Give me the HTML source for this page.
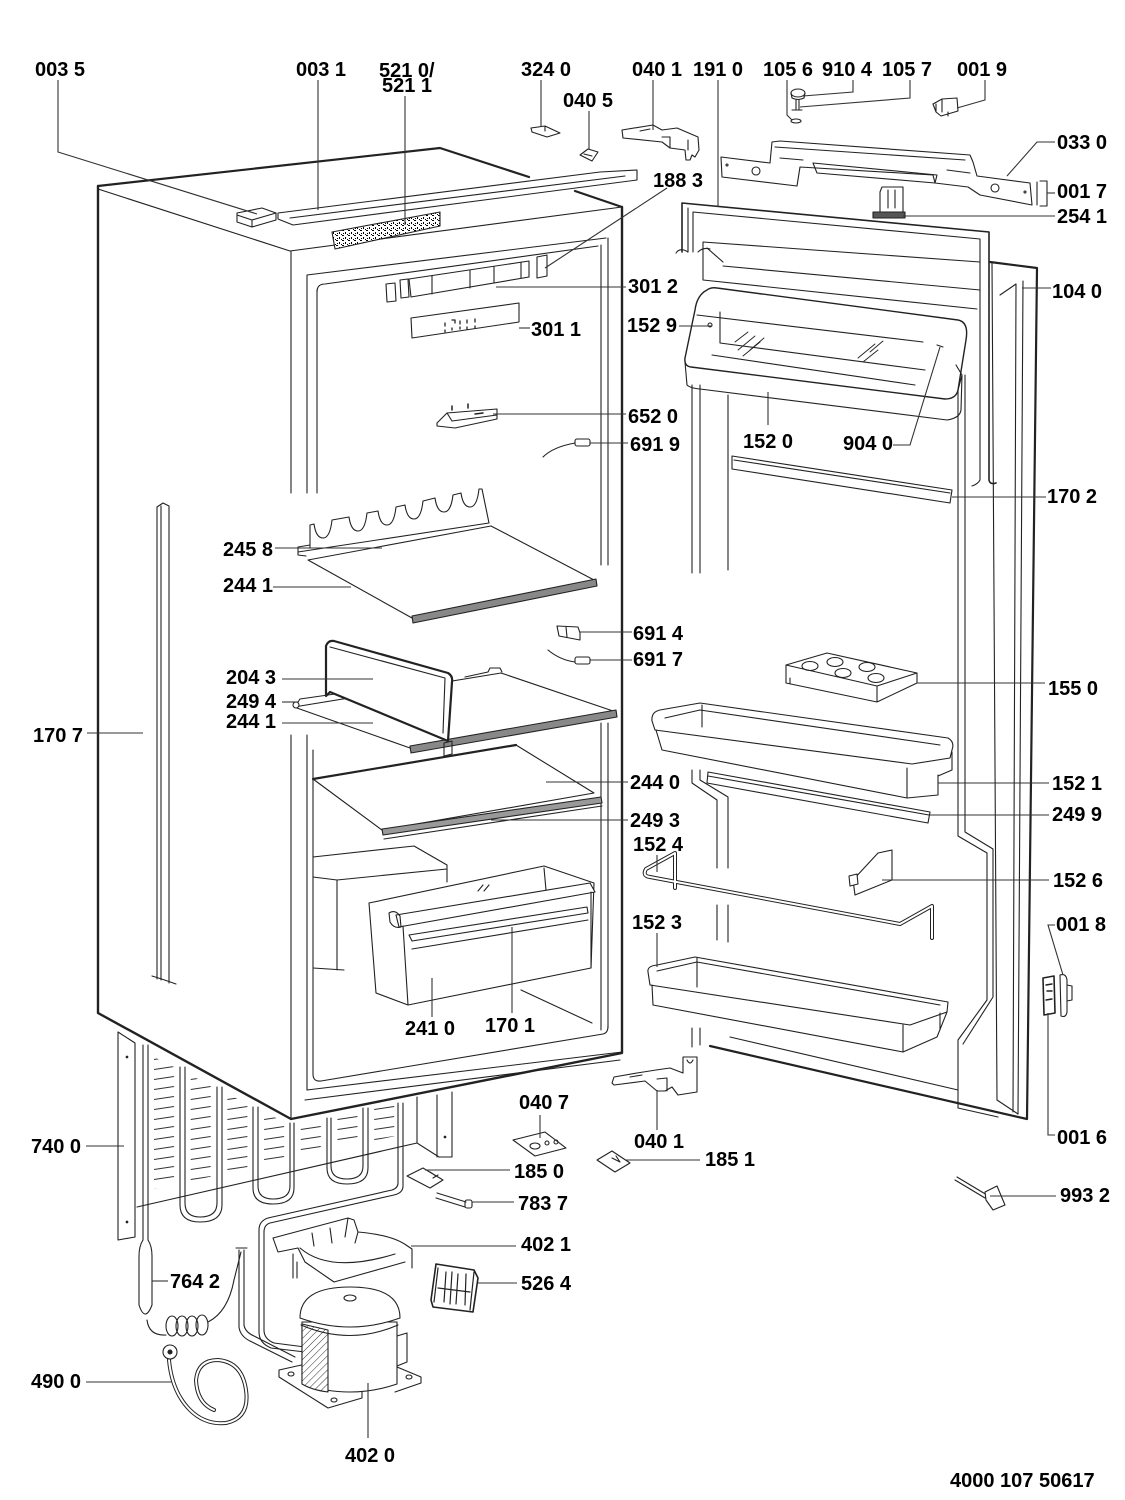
<!DOCTYPE html>
<html><head><meta charset="utf-8"><title>Parts diagram</title>
<style>
html,body{margin:0;padding:0;background:#fff;width:1125px;height:1500px;overflow:hidden;}
svg{display:block;}
text{font-family:"Liberation Sans",Arial,sans-serif;font-weight:bold;font-size:20px;fill:#000;}
</style></head><body>
<svg width="1125" height="1500" viewBox="0 0 1125 1500" xmlns="http://www.w3.org/2000/svg">
<defs>
<pattern id="spk" width="6" height="5" patternUnits="userSpaceOnUse">
<rect width="6" height="5" fill="#fff"/>
<rect x="0" y="0" width="2" height="1" fill="#000"/>
<rect x="3" y="2" width="1" height="2" fill="#000"/>
<rect x="5" y="4" width="1" height="1" fill="#000"/>
<rect x="1" y="3" width="1" height="1" fill="#000"/>
</pattern>
<pattern id="hat" width="5" height="5" patternUnits="userSpaceOnUse" patternTransform="rotate(45)">
<rect width="5" height="5" fill="#fff"/>
<line x1="0" y1="0" x2="0" y2="5" stroke="#333" stroke-width="1"/>
</pattern>
<pattern id="cond" x="153" y="1053" width="36.7" height="10" patternUnits="userSpaceOnUse">
<line x1="1" y1="6.5" x2="21" y2="3.5" stroke="#333" stroke-width="1"/>
</pattern>
</defs>

<rect width="1125" height="1500" fill="#fff"/>

<!-- ================= CABINET ================= -->
<g fill="none" stroke="#222" stroke-width="1.1" stroke-linejoin="round" stroke-linecap="round">
<!-- bold outline -->
<path d="M98,186 L98,1013 L291,1119 L622,1053 L622,207" stroke-width="2.4"/>
<path d="M98,186 L440,148 L529,177" stroke-width="2.2"/>
<path d="M575,191 L622,207" stroke-width="2.2"/>
<path d="M98,189 L290,251 L622,207"/>
<!-- front frame left -->
<path d="M291,251 L291,493 M307,275 L307,493 M317,290 L317,493"/>
<path d="M291,735 L291,1119 M307,735 L307,1090 M313,750 L313,1074 Q313,1082 321,1081 L603,1034 Q608,1033 608,1026"/>
<!-- liner top -->
<path d="M307,275 L606,238 M317,292 Q317,284 325,284 L598,246"/>
<!-- front frame right -->
<path d="M601,245 L601,565 M608,238 L608,565 M601,723 L601,1030 M608,723 L608,1028"/>
<path d="M307,1090 L622,1052 M305,1100 L620,1060"/>
<!-- top strip 003 1 -->
<path d="M278,213 L600,172 L637,170 L637,180 L293,225 L278,219 Z" fill="#fff"/>
<path d="M290,218 L625,176"/>
<!-- 003 5 block -->
<path d="M237,213 L262,208 L276,213 L276,220 L252,227 L237,222 Z M237,215 L252,220 L276,213 M252,220 L252,227" fill="#fff"/>
<!-- PCB 521 -->
<path d="M332,232 L440,212 L440,226 L335,249 Z" fill="url(#spk)"/>
<!-- 301 2 panel -->
<path d="M409,279 L529,261 L529,277 L411,297 Z M432,276 L432,294 M470,270 L470,288 M494,267 L494,283 M521,262 L521,278"/>
<path d="M386,284 L395,283 L396,301 L387,302 Z M400,280 L408,279 L409,297 L401,298 Z"/>
<!-- 188 3 -->
<path d="M537,257 L547,255 L547,276 L537,278 Z"/>
<!-- 301 1 panel -->
<path d="M411,318 L519,303 L519,322 L412,338 Z"/>
<path d="M445,323 l0,3 M452,320 l3,0 l0,3 M460,321 l0,3 M467,320 l0,3 M475,319 l0,3 M445,330 l0,2 M452,328 l0,2 M460,327 l0,2 M467,327 l0,2 M475,326 l0,2" stroke-width="1.3"/>
<!-- 652 0 lamp -->
<path d="M437,423 L447,413 L497,409 L497,419 L455,428 L437,426 Z M447,413 L452,421 L497,415" fill="#fff"/>
<path d="M452,410 l0,-4 M468,408 l0,-4 M475,414 l8,-1" stroke-width="1.5"/>
<!-- 691 9 -->
<path d="M543,457 Q553,447 575,443"/>
<rect x="575" y="439" width="15" height="7" rx="2"/>
<!-- 691 4 -->
<path d="M557,626 L578,627 L580,633 L580,640 L559,636 Z M566,627 L567,637"/>
<!-- 691 7 -->
<path d="M548,650 Q560,660 575,662"/>
<rect x="575" y="657" width="15" height="7" rx="2"/>
<!-- 170 7 strip -->
<path d="M157,507 L157,979 M161,506 L161,980 M169,506 L169,983 M157,507 L163,503 L169,506"/>
<path d="M152,976 Q162,979 176,984"/>

<!-- shelf 1: 245 8 + 244 1 -->
<path d="M308,560 L491,526 L596,581 L412,618 Z" fill="#fff"/>
<path d="M412,616 L596,579 L597,586 L413,623 Z" fill="#888"/>
<path d="M310,548 L310,525 L314,524 Q316,538 323,538 Q330,538 332,520 L349,517 Q351,531 358,531 Q365,531 367,513 L378,511 Q380,525 387,525 Q394,525 396,507 L405,505 Q407,519 414,519 Q421,519 423,501 L435,498 Q437,512 444,512 Q451,512 453,495 L461,493 Q463,507 470,507 Q477,507 479,489 L482,489 L489,523" fill="#fff"/>
<path d="M298,552 L489,523 M298,547 L310,545 M298,547 L298,555 L306,556"/>

<!-- shelf 2: 244 1 + 204 3 + 249 4 -->
<path d="M294,707 L501,673 L616,712 L410,748 Z" fill="#fff"/>
<path d="M410,746 L616,710 L617,717 L411,753 Z" fill="#888"/>
<path d="M465,677 L488,672 L490,668 L500,668 L502,672 M296,705 L300,699 L335,694" />
<circle cx="296" cy="705" r="3" fill="#fff"/>
<path d="M326,696 L326,646 Q328,640 334,641 L448,673 Q453,676 452,682 L448,741 L330,692 Z" fill="#fff" stroke-width="2.2"/>
<path d="M330,647 L445,678 L443,733"/>
<path d="M444,743 L452,741 L452,754 L444,756 Z"/>

<!-- shelf 3: 244 0 + 249 3 -->
<path d="M313,779 L516,745 L594,793 L382,830 Z" fill="#fff"/>
<path d="M313,779 L516,745" stroke-width="2.2"/>
<path d="M382,829 L601,797 L602,803 L383,835 Z" fill="#999"/>
<path d="M384,839 L602,806"/>

<!-- evaporator box -->
<path d="M313,857 L414,846 L447,865 L447,882 M313,877 L337,880 L447,869 M337,880 L337,970 M313,968 L344,970"/>

<!-- crisper 241 0 / 170 1 -->
<path d="M369,903 L544,866 L594,883 L591,968 L408,1005 L376,993 Z" fill="#fff"/>
<path d="M396,915 L590,883 L595,892 L399,927 Z" fill="#fff"/>
<path d="M389,913 Q395,909 400,916 L401,927 Q394,929 390,922 Z"/>
<path d="M403,926 L408,1005 M591,892 L591,968 M544,868 L546,890"/>
<path d="M409,935 L587,907 L588,913 L412,941 Z M412,949 L588,920"/>
<path d="M521,990 L592,1023"/>
<path d="M478,891 l5,-6 M484,891 l5,-6"/>

<!-- ============ CONDENSER AREA ============ -->
<path d="M150,1055 L290,1125 L400,1103 L400,1135 L150,1190 Z" fill="url(#cond)" stroke="none"/>
<path d="M118,1032 L118,1240 L135,1237 L135,1043 Z" fill="#fff"/>
<circle cx="127" cy="1057" r="0.8" fill="#222"/>
<circle cx="127" cy="1222" r="0.8" fill="#222"/>
<path d="M143,1045 L143,1240 M148,1045 L148,1240"/>
<path d="M137,1207 L417,1143"/>
<!-- U tubes -->
<path d="M180,1067 L180,1205 Q180,1222 200,1222 Q222,1222 222,1205 L222,1087 M185,1067 L185,1203 Q185,1217 200,1217 Q217,1217 217,1203 L217,1087"/>
<path d="M253,1107 L253,1188 Q253,1204 273,1204 Q294,1204 294,1188 L294,1123 M258,1107 L258,1186 Q258,1199 273,1199 Q290,1199 290,1186 L290,1123"/>
<path d="M327,1118 L327,1168 Q327,1184 347,1184 Q368,1184 368,1168 L368,1108 M331,1118 L331,1166 Q331,1179 347,1179 Q363,1179 363,1166 L363,1108"/>
<!-- tube to compressor -->
<path d="M398,1103 L398,1183 Q398,1188 392,1190 L268,1218 Q259,1221 259,1230 L259,1332 Q259,1343 271,1348 L305,1352"/>
<path d="M403,1103 L403,1186 Q403,1193 394,1195 L270,1223 Q264,1225 264,1232 L264,1330 Q264,1339 274,1343 L305,1347"/>
<path d="M239,1250 L239,1327 Q240,1336 250,1341 L292,1362 M244,1250 L244,1325 Q245,1332 254,1336 L295,1357"/>
<path d="M236,1248 L247,1248"/>
<!-- rear bracket -->
<path d="M417,1097 L417,1143 L439,1157 M437,1095 L437,1157 M452,1092 L452,1157 L439,1157" />
<circle cx="445" cy="1137" r="0.8" fill="#222"/>
<!-- drier 764 2 -->
<path d="M143,1240 Q139,1246 139,1256 L139,1305 Q145,1323 152,1305 L152,1256 Q152,1246 148,1240" fill="#fff"/>
<path d="M147,1320 Q149,1336 166,1335"/>
<ellipse cx="172" cy="1326" rx="6" ry="10"/>
<ellipse cx="182" cy="1326" rx="6" ry="10"/>
<ellipse cx="192" cy="1326" rx="6" ry="10"/>
<ellipse cx="202" cy="1325" rx="6" ry="10"/>
<path d="M208,1322 Q228,1312 234,1280 L241,1252"/>
<!-- power cord 490 0 -->
<path d="M169,1360 Q172,1392 190,1410 Q205,1425 226,1423 Q250,1418 246,1390 Q242,1362 218,1360 Q198,1360 196,1380 Q197,1403 214,1410" stroke-width="4"/>
<path d="M169,1360 Q172,1392 190,1410 Q205,1425 226,1423 Q250,1418 246,1390 Q242,1362 218,1360 Q198,1360 196,1380 Q197,1403 214,1410" stroke="#fff" stroke-width="2"/>
<ellipse cx="170" cy="1352" rx="7" ry="7" fill="#fff"/>
<circle cx="170" cy="1352" r="2" fill="#222"/>
<!-- compressor 402 0 -->
<path d="M279,1370 L306,1364 M279,1370 L279,1377 L328,1408 L362,1398 L362,1392" fill="none"/>
<path d="M397,1367 L421,1377 L421,1383 L395,1392"/>
<ellipse cx="291" cy="1374" rx="3" ry="2"/>
<ellipse cx="334" cy="1400" rx="3" ry="2"/>
<ellipse cx="409" cy="1377" rx="3" ry="2"/>
<path d="M302,1322 L302,1384 Q350,1400 397,1384 L397,1322 Z" fill="#fff"/>
<path d="M302,1324 L328,1330 L328,1392 Q312,1390 302,1384 Z" fill="url(#hat)"/>
<path d="M300,1318 Q300,1287 350,1287 Q400,1287 400,1318 Q350,1336 300,1318 Z" fill="#fff"/>
<path d="M301,1325 Q350,1346 398,1325"/>
<ellipse cx="350" cy="1298" rx="6" ry="3"/>
<path d="M397,1336 L407,1333 L407,1362 L397,1366"/>
<!-- 402 1 bracket -->
<path d="M273,1238 L348,1218 L354,1220 L358,1232 Q392,1235 406,1245 L412,1249 L412,1268 M273,1238 L278,1252 L298,1248 L305,1262 L334,1282 L405,1262 M300,1248 Q330,1274 395,1254 M293,1254 L293,1278 M297,1262 L297,1278 M312,1233 L314,1246 M330,1228 L332,1243 M348,1218 L345,1237 M358,1232 L355,1243" fill="#fff"/>
<!-- 526 4 relay -->
<path d="M436,1264 L474,1270 L478,1278 L473,1312 L433,1307 L431,1300 Z" fill="#fff" stroke-width="1.6"/>
<path d="M438,1268 L434,1302 M446,1272 L444,1302 M452,1272 L450,1304 M458,1274 L456,1304 M466,1274 L465,1305 M474,1272 L470,1310 M438,1288 L470,1292" stroke-width="1.2"/>
<!-- 185 0 -->
<path d="M407,1176 L423,1168 L443,1180 L430,1188 Z M430,1172 l6,4 M433,1178 l5,-3" fill="#fff"/>
<!-- 783 7 -->
<path d="M437,1193 L466,1202 M436,1198 L465,1207"/>
<rect x="465" y="1200" width="7" height="8" rx="2"/>
<!-- 040 7 -->
<path d="M513,1140 L545,1132 L566,1148 L535,1156 Z" fill="#fff"/>
<ellipse cx="535" cy="1146" rx="5" ry="3"/>
<circle cx="547" cy="1143" r="2"/>
<circle cx="556" cy="1142" r="2"/>
<!-- 185 1 -->
<path d="M597,1160 L612,1151 L630,1163 L615,1172 Z M612,1158 l8,4 M616,1156 l4,6" fill="#fff"/>
<!-- 040 1 bottom hinge -->
<path d="M612,1083 L614,1077 L637,1073 L656,1070 L670,1068 L683,1073 L683,1057 L697,1057 L697,1092 L678,1095 L672,1087 L665,1091 L657,1091 L645,1081 L614,1085 Z" fill="#fff"/>
<path d="M657,1079 L667,1078 L667,1091 M687,1060 Q690,1066 693,1060 M630,1077 l12,-2"/>

<!-- ============ TOP PARTS ============ -->
<!-- 324 0 -->
<path d="M531,128 L545,126 L560,133 L547,137 L532,132 Z M545,126 L545,131"/>
<!-- 040 5 -->
<path d="M580,155 L588,149 L598,152 L592,161 Z M584,154 L592,156"/>
<!-- 040 1 top hinge -->
<path d="M622,130 L653,125 L662,130 L677,128 L698,137 L699,150 L695,157 L692,155 L690,160 L686,160 L685,150 L670,148 L662,142 L623,138 Z" fill="#fff"/>
<path d="M662,137 L670,137 L670,148 M640,131 L650,129 M688,140 L688,150"/>
<!-- knob 105 6 / 910 4 / 105 7 -->
<ellipse cx="798" cy="93" rx="7" ry="4" fill="#fff"/>
<path d="M791,93 L792,98 Q798,101 804,98 L805,93 M796,100 L796,110 M799,100 L799,110 M792,110 L802,110"/>
<ellipse cx="796" cy="121" rx="5" ry="2"/>
<!-- 001 9 -->
<path d="M933,104 L942,99 L957,98 L958,111 L941,116 L936,112 Z M942,99 L942,112 M936,112 L936,104 M948,112 L948,116"/>
<!-- 033 0 bracket -->
<path d="M721,157 L770,163 L772,142 L780,141 L970,155 L973,162 L977,176 L1030,183 L1032,205 L980,195 L968,187 L935,183 L933,175 L800,167 L797,186 L722,177 Z" fill="#fff"/>
<path d="M775,147 L965,160 M813,163 L937,175 L935,183 L817,173 Z M780,158 L803,160 M947,170 L970,173"/>
<circle cx="756" cy="171" r="4"/>
<circle cx="995" cy="188" r="4"/>
<circle cx="727" cy="165" r="1"/>
<circle cx="1025" cy="192" r="1"/>
<!-- 001 7 -->
<path d="M1040,181 L1047,181 L1047,206 L1040,206 M1037,182 L1037,205"/>
<!-- 254 1 -->
<path d="M882,187 L903,187 L903,212 L880,212 L880,192 Z M888,190 L888,208 M895,190 L895,208" fill="#fff"/>
<path d="M873,212 L905,212 L905,218 L873,218 Z" fill="#555"/>

<!-- ============ DOOR ============ -->
<!-- seal 191 0 -->
<path d="M682,252 L682,203 L989,232 L989,480 Q990,485 996,483" stroke-width="1.6"/>
<path d="M688,252 L688,208 M693,252 L693,212 L980,239 L980,480 Q978,484 972,486"/>
<path d="M676,253 Q680,247 688,252 M698,252 Q703,247 710,249"/>
<!-- door outer -->
<path d="M990,262 L1037,268 L1027,1119 L710,1046" stroke-width="2.2"/>
<path d="M992,263 L997,1100 M1016,284 L1013,1112 M1023,281 L1018,1114 M1000,295 L1016,284"/>
<path d="M730,1037 L958,1090"/>
<path d="M958,1108 L998,1117 M997,1100 L1018,1114"/>
<!-- inner profile right -->
<path d="M958,375 L958,836 L987,853 L987,1000 L958,1040 L958,1108"/>
<path d="M965,375 L965,832 L993,849 L993,997 L963,1044"/>
<!-- door left liner -->
<path d="M692,385 L692,573 M700,385 L700,573 M728,395 L728,570"/>
<path d="M692,770 L692,783 L717,800 L717,868 M700,770 L700,780 L728,797 L728,868 M717,905 L717,940 M728,905 L728,942 M692,1028 L692,1047 M700,1028 L700,1045"/>

<!-- dairy compartment 152 9 / 152 0 -->
<path d="M703,242 L703,280 M703,242 L980,262 M707,248 L723,262 M723,266 L980,290 M703,280 L977,309"/>
<path d="M707,290 Q697,295 695,310 L685,358 Q684,366 691,367 L945,399 Q956,399 958,390 L966,340 Q969,322 958,320 L717,288 Q711,287 707,290 Z" fill="#fff" stroke-width="1.4"/>
<path d="M697,315 L923,342 M720,312 L720,343 L925,370 M712,355 L915,385"/>
<path d="M685,362 L687,385 Q690,388 700,389 L947,420 Q960,418 961,410 L962,375 M958,390 L962,375 L956,365"/>
<path d="M738,350 l17,-14 M743,356 l17,-14 M750,350 l14,-12 M735,342 l13,-10 M858,358 l17,-14 M863,362 l15,-12 M870,352 l13,-11" stroke-width="0.9"/>
<circle cx="710" cy="325" r="2"/>
<path d="M937,345 l6,2"/>
<!-- 170 2 bar -->
<path d="M732,456 L952,490 L950,503 L732,469 Z M734,460 L950,493"/>
<!-- 155 0 egg tray -->
<path d="M786,665 L827,653 L917,673 L877,686 Z" fill="#fff"/>
<path d="M786,665 L786,683 L877,702 L917,683 L917,673 M877,686 L877,702 M790,678 L790,684"/>
<ellipse cx="810" cy="666" rx="8" ry="4.5"/>
<ellipse cx="835" cy="662" rx="8" ry="4.5"/>
<ellipse cx="843" cy="673" rx="8" ry="4.5"/>
<ellipse cx="867" cy="667" rx="8" ry="4.5"/>
<ellipse cx="876" cy="678" rx="8" ry="4.5"/>
<!-- 152 1 bin -->
<path d="M652,721 Q651,712 660,710 L700,703 L948,738 Q955,742 952,750 L950,758 L912,764 L655,730 Z" fill="#fff"/>
<path d="M665,718 L700,710 L940,745 M702,705 L702,727"/>
<path d="M656,730 L662,750 L907,798 L938,795 L938,775 M952,752 L952,770 L938,776 M907,768 L907,798"/>
<!-- 249 9 bar -->
<path d="M708,772 L930,812 L928,823 L707,783 Z M708,776 L929,815"/>
<!-- 152 4 rack -->
<path d="M675,888 L675,853 L646,869 Q642,876 650,877 L900,924 L932,906 L932,938" stroke-width="4"/>
<path d="M675,888 L675,853 L646,869 Q642,876 650,877 L900,924 L932,906 L932,938" stroke="#fff" stroke-width="2"/>
<!-- 152 6 -->
<path d="M853,880 L878,853 L892,850 L892,880 L855,895 Z" fill="#fff"/>
<path d="M849,876 L857,874 L858,884 L850,886 Z" fill="#fff"/>
<!-- 152 3 bin -->
<path d="M648,972 Q647,966 657,965 L695,957 L948,1002 L947,1012 L910,1025 L650,985 Z" fill="#fff"/>
<path d="M657,971 L697,962 L940,1005 M697,958 L697,987"/>
<path d="M652,985 L653,1005 L903,1052 L937,1037 L947,1012 M903,1025 L903,1052 M940,1013 L940,1030"/>
<!-- hinge 001 8 / 001 6 -->
<path d="M1043,978 L1054,976 L1055,1013 L1044,1015 Z" fill="#fff" stroke-width="1.6"/>
<path d="M1046,985 L1052,984 M1046,1000 L1052,999 M1047,991 l5,0" stroke-width="1.4"/>
<path d="M1060,975 Q1066,973 1067,980 L1067,1012 Q1066,1018 1061,1016 Z M1067,985 L1072,986 L1072,1000 L1067,1001" fill="#fff"/>
<!-- 993 2 -->
<path d="M957,1177 L987,1195 M955,1180 L985,1198"/>
<path d="M985,1192 L997,1186 L1005,1205 L993,1210 L986,1200 Z" fill="#fff"/>
</g>

<!-- ============ LEADER LINES ============ -->
<g fill="none" stroke="#333" stroke-width="1.1">
<path d="M58,80 L58,152 L257,214"/>
<path d="M318,80 L318,210"/>
<path d="M405,96 L405,225"/>
<path d="M541,80 L541,127"/>
<path d="M589,111 L589,149"/>
<path d="M653,80 L653,130"/>
<path d="M718,80 L718,207"/>
<path d="M853,80 L853,92 L803,96"/>
<path d="M910,80 L910,98 L800,107"/>
<path d="M787,80 L787,115 L792,120"/>
<path d="M985,80 L985,100 L957,108"/>
<path d="M1055,142 L1037,142 L1007,176"/>
<path d="M1047,193 L1055,193"/>
<path d="M903,216 L1055,216"/>
<path d="M545,268 L667,188"/>
<path d="M1022,288 L1051,288"/>
<path d="M496,287 L626,287"/>
<path d="M679,326 L712,326"/>
<path d="M519,328 L530,328"/>
<path d="M493,414 L626,414"/>
<path d="M590,443 L628,443"/>
<path d="M768,392 L768,425"/>
<path d="M893,445 L910,445 L940,347"/>
<path d="M952,497 L1046,497"/>
<path d="M275,548 L382,548"/>
<path d="M273,587 L351,587"/>
<path d="M580,632 L632,632"/>
<path d="M590,660 L632,660"/>
<path d="M282,679 L373,679"/>
<path d="M917,683 L1045,683"/>
<path d="M282,702 L298,702"/>
<path d="M282,723 L373,723"/>
<path d="M87,733 L143,733"/>
<path d="M546,782 L628,782"/>
<path d="M938,783 L1049,783"/>
<path d="M930,815 L1049,815"/>
<path d="M491,820 L628,820"/>
<path d="M657,855 L657,872"/>
<path d="M882,880 L1049,880"/>
<path d="M657,933 L657,967"/>
<path d="M1055,925 L1048,925 L1063,975"/>
<path d="M432,978 L432,1017"/>
<path d="M512,927 L512,1013"/>
<path d="M540,1115 L540,1138"/>
<path d="M657,1090 L657,1130"/>
<path d="M1048,1013 L1048,1135 L1055,1135"/>
<path d="M86,1146 L124,1146"/>
<path d="M425,1170 L510,1170"/>
<path d="M626,1160 L700,1160"/>
<path d="M472,1202 L514,1202"/>
<path d="M990,1196 L1056,1196"/>
<path d="M411,1246 L516,1246"/>
<path d="M152,1281 L168,1281"/>
<path d="M478,1283 L517,1283"/>
<path d="M86,1382 L172,1382"/>
<path d="M368,1383 L368,1438"/>
</g>

<!-- ============ LABELS ============ -->
<g>
<text x="35" y="76">003 5</text>
<text x="296" y="76">003 1</text>
<text x="379" y="77">521 0/</text>
<text x="382" y="92">521 1</text>
<text x="521" y="76">324 0</text>
<text x="563" y="107">040 5</text>
<text x="632" y="76">040 1</text>
<text x="693" y="76">191 0</text>
<text x="763" y="76">105 6</text>
<text x="822" y="76">910 4</text>
<text x="882" y="76">105 7</text>
<text x="957" y="76">001 9</text>
<text x="1057" y="149">033 0</text>
<text x="653" y="187">188 3</text>
<text x="1057" y="198">001 7</text>
<text x="1057" y="223">254 1</text>
<text x="1052" y="298">104 0</text>
<text x="628" y="293">301 2</text>
<text x="627" y="332">152 9</text>
<text x="531" y="336">301 1</text>
<text x="628" y="423">652 0</text>
<text x="630" y="451">691 9</text>
<text x="743" y="448">152 0</text>
<text x="843" y="450">904 0</text>
<text x="1047" y="503">170 2</text>
<text x="223" y="556">245 8</text>
<text x="223" y="592">244 1</text>
<text x="633" y="640">691 4</text>
<text x="633" y="666">691 7</text>
<text x="226" y="684">204 3</text>
<text x="1048" y="695">155 0</text>
<text x="226" y="708">249 4</text>
<text x="226" y="728">244 1</text>
<text x="33" y="742">170 7</text>
<text x="630" y="789">244 0</text>
<text x="1052" y="790">152 1</text>
<text x="1052" y="821">249 9</text>
<text x="630" y="827">249 3</text>
<text x="633" y="851">152 4</text>
<text x="1053" y="887">152 6</text>
<text x="632" y="929">152 3</text>
<text x="1056" y="931">001 8</text>
<text x="405" y="1035">241 0</text>
<text x="485" y="1032">170 1</text>
<text x="519" y="1109">040 7</text>
<text x="634" y="1148">040 1</text>
<text x="1057" y="1144">001 6</text>
<text x="31" y="1153">740 0</text>
<text x="514" y="1178">185 0</text>
<text x="705" y="1166">185 1</text>
<text x="518" y="1210">783 7</text>
<text x="1060" y="1202">993 2</text>
<text x="521" y="1251">402 1</text>
<text x="170" y="1288">764 2</text>
<text x="521" y="1290">526 4</text>
<text x="31" y="1388">490 0</text>
<text x="345" y="1462">402 0</text>
<text x="950" y="1487">4000 107 50617</text>
</g>
</svg>
</body></html>
